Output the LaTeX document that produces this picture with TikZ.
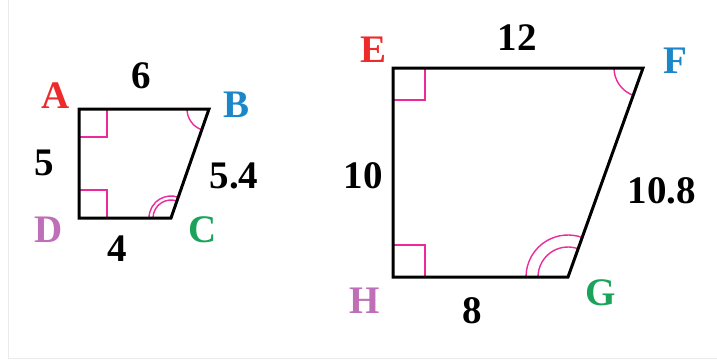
\documentclass[tikz,border=0pt]{standalone}
\usepackage{fontspec}
\setmainfont{Liberation Serif}
\definecolor{cA}{HTML}{EE2B2B}
\definecolor{cB}{HTML}{1B87C9}
\definecolor{cC}{HTML}{1CA35B}
\definecolor{cD}{HTML}{BF6FB7}
\definecolor{mk}{HTML}{EC2A9C}
\tikzset{
  quadline/.style={line width=3pt, line join=miter},
  anglemark/.style={draw=mk, line width=1.4pt},
  lbl/.style={anchor=base, inner sep=0pt, font=\fontsize{39}{39}\selectfont\bfseries},
}
\begin{document}
\begin{tikzpicture}[x=1pt,y=-1pt]
\useasboundingbox (0,0) rectangle (717,360);
\fill[white] (0,0) rectangle (717,360);
\draw[black!8, line width=1pt] (8,0) -- (8,358) -- (717,358);
% small quadrilateral
\coordinate (A) at (79,109);
\coordinate (B) at (209,109);
\coordinate (C) at (171,218);
\coordinate (D) at (79,218);
\draw[anglemark] ([yshift=-28]A) -| ([xshift=28]A);
\draw[anglemark] ([yshift=28]D) -| ([xshift=28]D);
\draw[anglemark] ([xshift=-22]B) arc[start angle=180, end angle=109.2, radius=22];
\draw[anglemark] ([xshift=-18]C) arc[start angle=180, end angle=289.2, radius=18];
\draw[anglemark] ([xshift=-22]C) arc[start angle=180, end angle=289.2, radius=22];
\draw[quadline] (A) -- (B) -- (C) -- (D) -- cycle;
% large quadrilateral
\coordinate (E) at (393,68);
\coordinate (F) at (643,68);
\coordinate (G) at (568,277);
\coordinate (H) at (393,277);
\draw[anglemark] ([yshift=-32]E) -| ([xshift=32]E);
\draw[anglemark] ([yshift=32]H) -| ([xshift=32]H);
\draw[anglemark] ([xshift=-29]F) arc[start angle=180, end angle=109.7, radius=29];
\draw[anglemark] ([xshift=-30]G) arc[start angle=180, end angle=289.7, radius=30];
\draw[anglemark] ([xshift=-42]G) arc[start angle=180, end angle=289.7, radius=42];
\draw[quadline] (E) -- (F) -- (G) -- (H) -- cycle;
% labels small
\node[lbl, text=cA] (lA) at (56,108) {A};
\node[lbl, text=cB] (lB) at (237,117) {B};
\node[lbl, text=cC] (lC) at (203,242) {C};
\node[lbl, text=cD] (lD) at (49,242) {D};
\node[lbl] (l6) at (141,88) {6};
\node[lbl] (l5) at (44,175) {5};
\node[lbl] (l54) at (234,188) {5.4};
\node[lbl] (l4) at (117,261) {4};
% labels large
\node[lbl, text=cA] (lE) at (374,62) {E};
\node[lbl, text=cB] (lF) at (675,73) {F};
\node[lbl, text=cC] (lG) at (601,305) {G};
\node[lbl, text=cD] (lH) at (365,313) {H};
\node[lbl] (l12) at (517,50) {12};
\node[lbl] (l10) at (363,188) {10};
\node[lbl] (l108) at (662,203) {10.8};
\node[lbl] (l8) at (472,323) {8};
\end{tikzpicture}
\end{document}
